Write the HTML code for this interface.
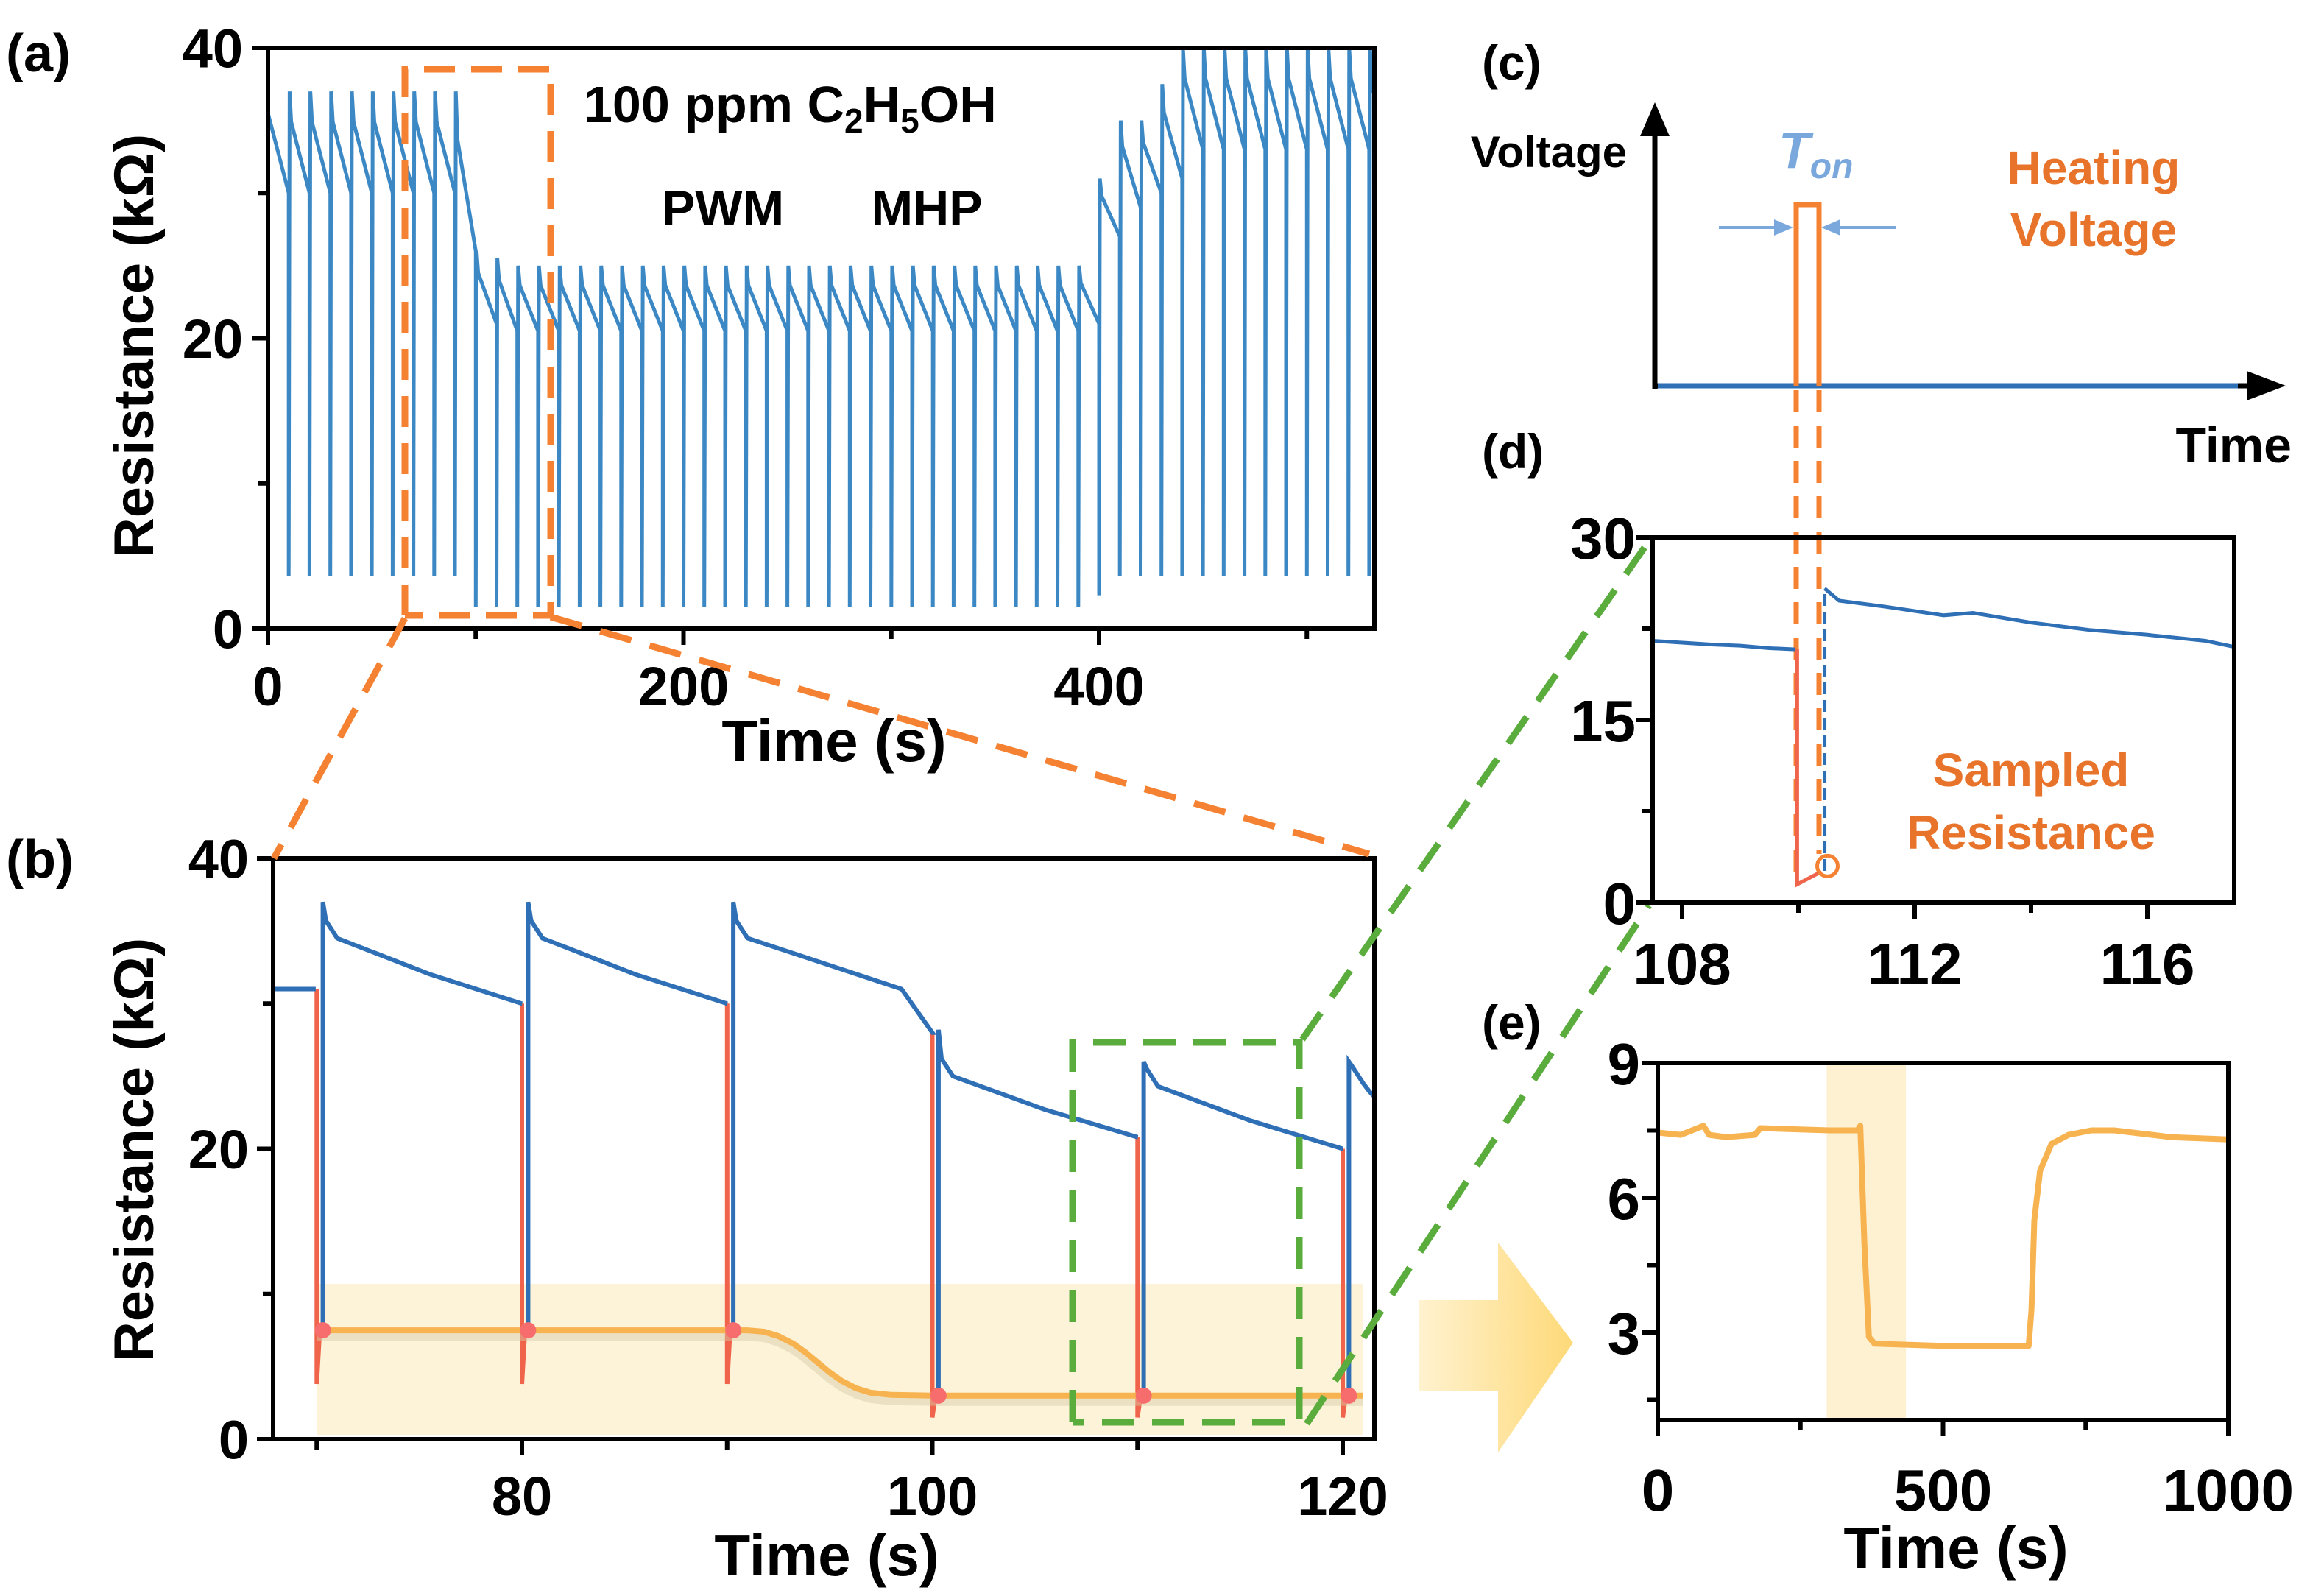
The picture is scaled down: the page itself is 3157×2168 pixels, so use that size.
<!DOCTYPE html>
<html><head><meta charset="utf-8"><style>
html,body{margin:0;padding:0;background:#fff;}
svg{display:block;font-family:"Liberation Sans",Arial,sans-serif;font-weight:bold;}
</style></head><body>
<svg id="fig" width="3157" height="2168" viewBox="0 0 3157 2168" xmlns="http://www.w3.org/2000/svg">
<defs>
<linearGradient id="arrowGrad" x1="0" x2="1" y1="0" y2="0"><stop offset="0" stop-color="#fff2cf"/><stop offset="1" stop-color="#fdd978"/></linearGradient>
</defs>
<g id="layer"></g>
</svg>
<script>
// ---------- Panel (a) data ----------
const aCycleT = [10,20,30,40,50,60,70,80,90,100,110,120,130,140,150,160,170,180,190,200,210,220,230,240,250,260,270,280,290,300,310,320,330,340,350,360,370,380,390,400,410,420,430,440,450,460,470,480,490,500,510,520,530];
const aPeaks = [37,37,37,37,37,37,37,37,37,26,25.5,25,25,25,25,25,25,25,25,25,25,25,25,25,25,25,25,25,25,25,25,25,25,25,25,25,25,25,25,31,35,35,37.5,40,40,40,40,40,40,40,40,40,40];
const aEnds = [30,30,30,30,30,30,30,30,26,21,20.5,20.5,20.5,20.5,20.5,20.5,20.5,20.5,20.5,20.5,20.5,20.5,20.5,20.5,20.5,20.5,20.5,20.5,20.5,20.5,20.5,20.5,20.5,20.5,20.5,20.5,20.5,20.5,21,27,29,30,31,33,33,33,33,33,33,33,33,33,33];
const aBottoms = [3.6,3.6,3.6,3.6,3.6,3.6,3.6,3.6,3.6,1.5,1.5,1.5,1.5,1.5,1.5,1.5,1.5,1.5,1.5,1.5,1.5,1.5,1.5,1.5,1.5,1.5,1.5,1.5,1.5,1.5,1.5,1.5,1.5,1.5,1.5,1.5,1.5,1.5,1.5,2.3,3.6,3.6,3.6,3.6,3.6,3.6,3.6,3.6,3.6,3.6,3.6,3.6,3.6];
const aStart = [0, 35.5];
const aXTicks = [0,200,400];
const aYTicks = [0,20,40];
// ---------- Panel (b) data ----------
const bCycleT = [70,80,90,100,110,120];
const bPeaks = [37,37,37,28.2,26,26];
const bMid = [34.5,34.5,34.5,25,24.3,24.5];
const bEnds = [30,30,28,20.8,20,23.5];
const bRedBottom = [3.8,3.8,3.8,1.5,1.5,1.5];
const bSample = [7.5,7.5,7.5,3,3,3];
const bStart = [67.9, 31];
const bKneeT = [0,0,98.5,0,0,0];
const bKneeV = [0,0,31,0,0,0];
const bCurveT = [70,91,91.8,92.5,93.2,93.8,94.4,95,95.6,96.3,97,98,100,121];
const bCurveV = [7.5,7.5,7.4,7.1,6.6,6.0,5.3,4.6,4.0,3.5,3.2,3.05,3,3];
const bXTicks = [80,100,120];
const bYTicks = [0,20,40];
// ---------- Panel (d) data ----------
const dPreT = [107.5,108.5,109,109.5,109.95];
const dPreV = [21.5,21.2,21.1,20.9,20.8];
const dRedT = [109.98,109.98,110.3,110.39];
const dRedV = [20.8,1.5,2.3,2.6];
const dPostT = [110.45,110.7,111.5,112.5,113,114,115,116,117,117.5];
const dPostV = [25.8,24.8,24.3,23.6,23.8,23,22.4,22,21.5,21];
const dXTicks = [108,112,116];
const dYTicks = [0,15,30];
// ---------- Panel (e) data ----------
const eT = [0,40,80,90,120,170,180,300,350,355,362,370,380,500,650,655,660,670,690,720,760,800,900,1000];
const eV = [7.45,7.4,7.6,7.4,7.35,7.4,7.55,7.5,7.5,7.6,5,2.9,2.75,2.7,2.7,3.5,5.5,6.6,7.2,7.4,7.5,7.5,7.35,7.3];
const eXTicks = [0,500,1000];
const eYTicks = [3,6,9];

const NS="http://www.w3.org/2000/svg";
const layer=document.getElementById('layer');
function el(tag,attrs,parent){const e=document.createElementNS(NS,tag);for(const k in attrs)e.setAttribute(k,attrs[k]);(parent||layer).appendChild(e);return e;}
function txt(s,x,y,size,attrs,parent){const t=el('text',Object.assign({x:x,y:y,'font-size':size,fill:'#000'},attrs||{}),parent);t.textContent=s;return t;}
function lin(d0,d1,r0,r1){return v=>r0+(v-d0)*(r1-r0)/(d1-d0);}
function pts(arr){return arr.map(p=>p[0].toFixed(1)+','+p[1].toFixed(1)).join(' ');}

function axes(g,x0,x1,y0,y1,sx,sy,xt,xminor,yt,yminor,fs,lw,xlabY,ylabX){
  el('rect',{x:x0,y:y0,width:x1-x0,height:y1-y0,fill:'none',stroke:'#000','stroke-width':lw},g);
  xt.forEach(v=>{el('line',{x1:sx(v),x2:sx(v),y1:y1,y2:y1+22,stroke:'#000','stroke-width':lw},g);
    const t=txt(String(v),sx(v),xlabY,fs,{'text-anchor':'middle'},g);
    
    });
  xminor.forEach(v=>el('line',{x1:sx(v),x2:sx(v),y1:y1,y2:y1+14,stroke:'#000','stroke-width':lw},g));
  yt.forEach(v=>{el('line',{x1:x0-22,x2:x0,y1:sy(v),y2:sy(v),stroke:'#000','stroke-width':lw},g);
    const t=txt(String(v),ylabX,sy(v)+fs*0.36,fs,{'text-anchor':'end'},g);
    
    });
  yminor.forEach(v=>el('line',{x1:x0-14,x2:x0,y1:sy(v),y2:sy(v),stroke:'#000','stroke-width':lw},g));
}

// ===== Panel (a) =====
(function(){
  const g=el('g',{});
  
  
  const X0=364,X1=1867,Y0=65,Y1=854;
  const sx=lin(0,400,X0,1493), sy=lin(0,40,Y1,Y0);
  const p=[[sx(aStart[0]),sy(aStart[1])]];
  let prev=30;
  aCycleT.forEach((t,i)=>{
    p.push([sx(t),sy(prev)]);p.push([sx(t),sy(aBottoms[i])]);
    p.push([sx(t+0.4),sy(aPeaks[i])]);p.push([sx(t+1.2),sy(aPeaks[i]-0.3*(aPeaks[i]-aEnds[i]))]);
    const tn=Math.min(t+10,532);const frac=(tn-t)/10;
    p.push([sx(tn),sy(aPeaks[i]-(0.3+0.7*frac)*(aPeaks[i]-aEnds[i]))]);
    prev=aEnds[i];
  });
  const cp=el('clipPath',{id:'clipA'},g);el('rect',{x:X0,y:Y0,width:X1-X0,height:Y1-Y0},cp);
  const s=el('polyline',{points:pts(p),fill:'none',stroke:'#3b88c4','stroke-width':5,'clip-path':'url(#clipA)'},g);
  
  
  axes(g,X0,X1,Y0,Y1,sx,sy,aXTicks,[100,300,500],aYTicks,[10,30],74,6,958,330);
  const yl=txt('Resistance (kΩ)',0,0,76,{'text-anchor':'middle',transform:'translate(208,470) rotate(-90)'},g);
  
  
  const xl=txt('Time (s)',1133,1034,80,{'text-anchor':'middle'},g);
  
  
  const lab=txt('(a)',8,97,72,{},g);
  
  
  const tt=el('text',{x:793,y:166,'font-size':70,fill:'#000'},g);
  tt.innerHTML='100 ppm C<tspan font-size="46" dy="14">2</tspan><tspan dy="-14">H</tspan><tspan font-size="46" dy="14">5</tspan><tspan dy="-14">OH</tspan>';
  
  
  const pw=txt('PWM',982,306,68,{'text-anchor':'middle'},g);
  
  
  const mh=txt('MHP',1259,306,68,{'text-anchor':'middle'},g);
  
  
  const zb=el('polyline',{points:'550,836 550,94 748,94 748,836 550,836',fill:'none',stroke:'#f58232','stroke-width':9,'stroke-dasharray':'42,22'},g);
  
  
})();

// ===== Panel (b) =====
(function(){
  const g=el('g',{});
  
  
  const X0=371,X1=1867,Y0=1166,Y1=1955;
  const sx=lin(80,120,709,1824), sy=lin(0,40,Y1,Y0);
  const sh=el('rect',{x:sx(70),y:sy(10.7),width:sx(121)-sx(70),height:sy(0.3)-sy(10.7),fill:'#fdf3d8'},g);
  
  
  let prev=bStart[1];
  const blue=[[sx(bStart[0]),sy(bStart[1])]];
  const segs=[];
  bCycleT.forEach((t,i)=>{
    blue.push([sx(t-0.05),sy(prev)]);
    segs.push(blue.splice(0));
    const red=el('polyline',{points:pts([[sx(t),sy(prev)],[sx(t),sy(bRedBottom[i])],[sx(t+0.15),sy(bSample[i])]]),fill:'none',stroke:'#f0644c','stroke-width':6},g);
    
    
    const tEnd=Math.min(t+10,121.6);
    blue.push([sx(t+0.3),sy(bSample[i])],[sx(t+0.3),sy(bPeaks[i])],[sx(t+0.45),sy(bMid[i]+1.2)],[sx(t+1),sy(bMid[i])]);
    if(bKneeT[i]){blue.push([sx(bKneeT[i]),sy(bKneeV[i])],[sx(bKneeT[i]+1),sy(bEnds[i]+1)]);}
    else blue.push([sx(t+1+(tEnd-t-1)*0.5),sy(bMid[i]-(bMid[i]-bEnds[i])*0.55)]);
    blue.push([sx(tEnd),sy(bEnds[i])]);
    prev=bEnds[i];
  });
  segs.push(blue);
  segs.forEach(s=>{if(s.length>1){const l=el('polyline',{points:pts(s),fill:'none',stroke:'#2f6fb6','stroke-width':6},g);
    
    }});
  const cpts=pts(bCurveT.map((t,i)=>[sx(t),sy(bCurveV[i])]));
  el('polyline',{points:cpts,fill:'none',stroke:'#d8c9a8','stroke-width':14,opacity:0.45,transform:'translate(0,7)','stroke-linejoin':'round'},g);
  const cv=el('polyline',{points:cpts,fill:'none',stroke:'#f7b350','stroke-width':8,'stroke-linejoin':'round'},g);
  
  
  bCycleT.forEach((t,i)=>{const c=el('circle',{cx:sx(t+0.3),cy:sy(bSample[i]),r:11,fill:'#f76c6c'},g);
    
    });
  axes(g,X0,X1,Y0,Y1,sx,sy,bXTicks,[70,90,110],bYTicks,[10,30],74,6,2058,338);
  const yl=txt('Resistance (kΩ)',0,0,76,{'text-anchor':'middle',transform:'translate(208,1562) rotate(-90)'},g);
  
  
  const xl=txt('Time (s)',1123,2140,80,{'text-anchor':'middle'},g);
  
  
  const lab=txt('(b)',8,1192,72,{},g);
  
  
  const gb=el('polyline',{points:'1457,1932 1457,1416 1765,1416 1765,1932 1457,1932',fill:'none',stroke:'#5aac3c','stroke-width':9,'stroke-dasharray':'44,24'},g);
  
  
})();

// connectors
(function(){
  const g=el('g',{'stroke-width':9,'stroke-dasharray':'44,26',fill:'none'});
  
  
  el('line',{x1:550,y1:840,x2:372,y2:1166,stroke:'#f58232'},g);
  el('line',{x1:748,y1:838,x2:1860,y2:1160,stroke:'#f58232'},g);
  el('line',{x1:1769,y1:1412,x2:2240,y2:735,stroke:'#5aac3c'},g);
  el('line',{x1:1775,y1:1934,x2:2240,y2:1230,stroke:'#5aac3c'},g);
  el('line',{x1:2440,y1:530,x2:2440,y2:1190,stroke:'#f58232','stroke-width':7,'stroke-dasharray':'30,18'},g);
  el('line',{x1:2471,y1:530,x2:2471,y2:1160,stroke:'#f58232','stroke-width':7,'stroke-dasharray':'30,18'},g);
})();

// ===== Panel (c) =====
(function(){
  const g=el('g',{});
  
  
  el('line',{x1:2248,y1:528,x2:2248,y2:180,stroke:'#000','stroke-width':7},g);
  el('polygon',{points:'2248,139 2228,185 2268,185',fill:'#000'},g);
  el('line',{x1:2248,y1:524,x2:3060,y2:524,stroke:'#000','stroke-width':7},g);
  el('polygon',{points:'3105,524 3052,504 3052,544',fill:'#000'},g);
  const bl=el('line',{x1:2252,y1:524,x2:3040,y2:524,stroke:'#2f6fb6','stroke-width':7},g);
  
  
  const pu=el('polyline',{points:'2440,524 2440,278 2471,278 2471,524',fill:'none',stroke:'#f58232','stroke-width':7},g);
  
  
  el('line',{x1:2335,y1:309,x2:2425,y2:309,stroke:'#7aa8dc','stroke-width':4},g);
  el('polygon',{points:'2436,309 2410,298 2410,320',fill:'#7aa8dc'},g);
  el('line',{x1:2485,y1:309,x2:2575,y2:309,stroke:'#7aa8dc','stroke-width':4},g);
  el('polygon',{points:'2474,309 2500,298 2500,320',fill:'#7aa8dc'},g);
  const ton=el('text',{x:2416,y:228,'font-size':70,fill:'#7aa8dc','font-style':'italic'},g);
  ton.innerHTML='T<tspan font-size="48" dy="14">on</tspan>';
  
  
  const lab=txt('(c)',2013,108,66,{},g);
  
  
  const v=txt('Voltage',2210,227,60,{'text-anchor':'end'},g);
  
  
  const h1=txt('Heating',2844,250,64,{'text-anchor':'middle',fill:'#e8732a'},g);
  
  
  const h2=txt('Voltage',2844,334,64,{'text-anchor':'middle',fill:'#e8732a'},g);
  
  
  const tm=txt('Time',3113,628,68,{'text-anchor':'end'},g);
  
  
})();

// ===== Panel (d) =====
(function(){
  const g=el('g',{});
  
  
  const X0=2245,X1=3035,Y0=730,Y1=1226;
  const sx=lin(108,116,2285,2917), sy=lin(0,30,Y1,Y0);
  const pre=el('polyline',{points:pts(dPreT.map((t,i)=>[sx(t),sy(dPreV[i])])),fill:'none',stroke:'#2f6fb6','stroke-width':5},g);
  
  
  const red=el('polyline',{points:pts(dRedT.map((t,i)=>[sx(t),sy(dRedV[i])])),fill:'none',stroke:'#f0644c','stroke-width':5},g);
  
  
  el('line',{x1:sx(dPostT[0]),y1:sy(dRedV[3]),x2:sx(dPostT[0]),y2:sy(dPostV[0]),stroke:'#2f6fb6','stroke-width':5,'stroke-dasharray':'16,8'},g);
  const post=el('polyline',{points:pts(dPostT.map((t,i)=>[sx(t),sy(dPostV[i])])),fill:'none',stroke:'#2f6fb6','stroke-width':5},g);
  
  
  const c=el('circle',{cx:sx(110.5),cy:sy(3),r:14,fill:'none',stroke:'#f58232','stroke-width':5},g);
  
  
  axes(g,X0,X1,Y0,Y1,sx,sy,dXTicks,[110,114],dYTicks,[7.5,22.5],80,6,1337,2222);
  const lab=txt('(d)',2013,636,66,{},g);
  
  
  const s1=txt('Sampled',2759,1068,64,{'text-anchor':'middle',fill:'#e8732a'},g);
  
  
  const s2=txt('Resistance',2759,1153,64,{'text-anchor':'middle',fill:'#e8732a'},g);
  
  
})();

// ===== Arrow =====
(function(){
  const a=el('polygon',{points:'1928,1766 2035,1766 2035,1688 2137,1824 2035,1973 2035,1889 1928,1889',fill:'url(#arrowGrad)'});
  
  
})();

// ===== Panel (e) =====
(function(){
  const g=el('g',{});
  
  
  const X0=2252,X1=3027,Y0=1444,Y1=1929;
  const sx=lin(0,1000,2252,3027), sy=lin(3,9,1810,1444);
  const sh=el('rect',{x:sx(296),y:Y0,width:sx(435)-sx(296),height:Y1-Y0,fill:'#fdf1d2'},g);
  
  
  const l=el('polyline',{points:pts(eT.map((t,i)=>[sx(t),sy(eV[i])])),fill:'none',stroke:'#f7b350','stroke-width':8,'stroke-linejoin':'round'},g);
  
  
  axes(g,X0,X1,Y0,Y1,sx,sy,eXTicks,[250,750],eYTicks,[1.5,4.5,7.5],80,6,2052,2228);
  const xl=txt('Time (s)',2657,2130,80,{'text-anchor':'middle'},g);
  
  
  const lab=txt('(e)',2013,1412,66,{},g);
  
  
})();
</script>
</body></html>
